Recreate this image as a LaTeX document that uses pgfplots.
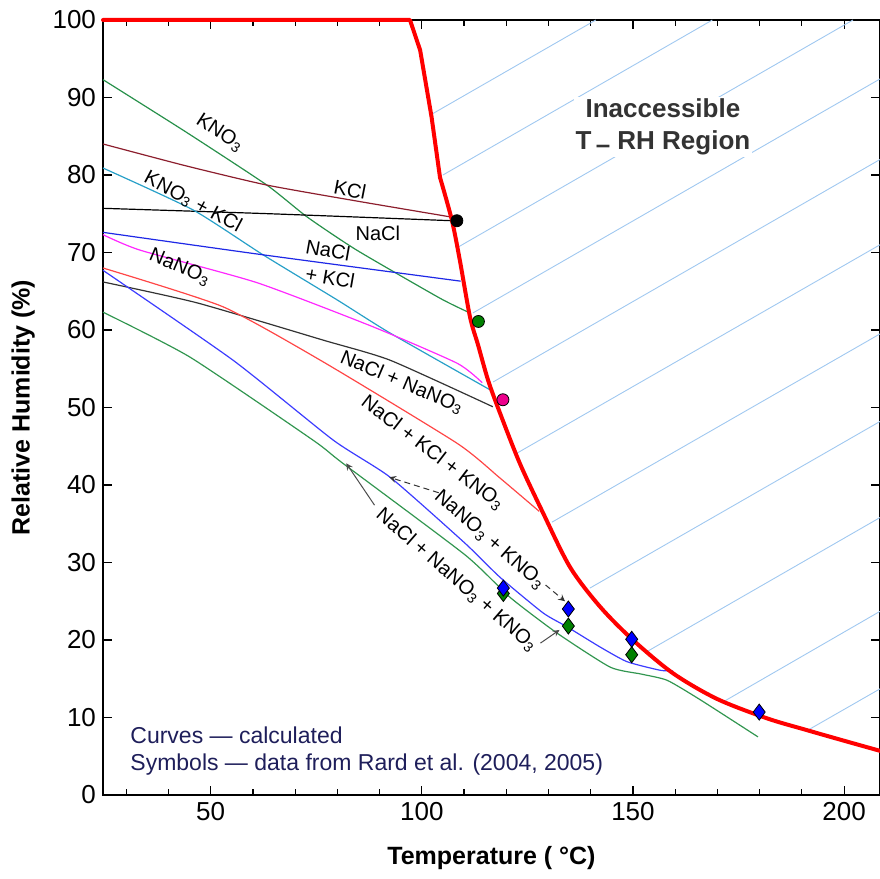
\documentclass[border=0pt]{standalone}
\usepackage{fontspec}
\setmainfont{Liberation Sans}
\usepackage{pgfplots}
\pgfplotsset{compat=1.18}
\definecolor{cKNO}{RGB}{40,145,75}
\definecolor{cLow}{RGB}{50,150,80}
\definecolor{cKCl}{RGB}{140,30,45}
\definecolor{cCyan}{RGB}{40,160,200}
\definecolor{cNK}{RGB}{30,40,230}
\definecolor{cMag}{RGB}{255,40,255}
\definecolor{cRedT}{RGB}{255,70,70}
\definecolor{cNN}{RGB}{60,60,255}
\definecolor{cHatch}{RGB}{160,200,240}
\definecolor{cNavy}{RGB}{30,30,90}
\definecolor{cDG}{RGB}{0,128,0}
\begin{document}
\begin{tikzpicture}
\begin{axis}[
  scale only axis, width=388.5pt, height=387.5pt,
  xmin=24.5, xmax=208.5, ymin=0, ymax=100,
  xtick={50,100,150,200},
  minor xtick={30,40,60,70,80,90,110,120,130,140,160,170,180,190},
  ytick={0,10,...,100},
  tick align=inside,
  major tick length=4.5pt, minor tick length=3pt,
  tick style={black, line width=0.6pt},
  axis line style={black, line width=0.8pt},
  every tick label/.append style={font=\fontsize{13}{15}\selectfont},
  /pgf/number format/assume math mode=true,
  xlabel={\textbf{Temperature ( °C)}},
  ylabel={\textbf{Relative Humidity (\%)}},
  label style={font=\fontsize{12.5}{15}\selectfont},
  xlabel style={at={(axis description cs:0.5,0)}, anchor=center, yshift=-31.5pt},
  ylabel style={yshift=2pt},
  clip=false,
  curve/.style={line width=0.6pt, smooth, tension=0.35},
]
% hatch lines of inaccessible region
\addplot[cHatch, line width=0.45pt] coordinates {(101.9,87.7) (141.2,100)};
\addplot[cHatch, line width=0.45pt] coordinates {(105.0,80.0) (168.8,100)};
\addplot[cHatch, line width=0.45pt] coordinates {(108.6,70.7) (202.1,100)};
\addplot[cHatch, line width=0.45pt] coordinates {(112.1,62.2) (208.5,92.4)};
\addplot[cHatch, line width=0.45pt] coordinates {(116.9,53.3) (208.5,82.0)};
\addplot[cHatch, line width=0.45pt] coordinates {(122.5,44.1) (208.5,71.0)};
\addplot[cHatch, line width=0.45pt] coordinates {(130.8,35.2) (208.5,59.5)};
\addplot[cHatch, line width=0.45pt] coordinates {(139.8,26.7) (208.5,48.2)};
\addplot[cHatch, line width=0.45pt] coordinates {(153.3,18.5) (208.5,35.8)};
\addplot[cHatch, line width=0.45pt] coordinates {(171.3,12.0) (208.5,23.7)};
\addplot[cHatch, line width=0.45pt] coordinates {(191.2,8.3) (208.5,13.7)};
% text of region (white background)
\node[fill=white, inner sep=1pt, align=center, font=\fontsize{13}{16}\selectfont\bfseries, text=black!80] at (axis cs:157.1,86.2) {Inaccessible\\T\,\raisebox{-0.15em}{–} RH Region};
% curves
\addplot[cKNO, curve] coordinates {(24.5,92.3) (44,85.6) (63.3,78.7) (72.8,74.6) (84.6,70.3) (104.3,64.1) (111.4,62.2)};
\addplot[cKCl, curve] coordinates {(24.5,84.0) (44,81.2) (63.3,78.7) (85,76.6) (106.7,74.6)};
\addplot[black, curve] coordinates {(24.5,75.7) (64.0,75.0) (107.1,74.1)};
\addplot[cCyan, curve] coordinates {(24.5,80.9) (45.8,75.5) (62.4,69.7) (79.9,63.9) (92.5,59.6) (116.1,52.3)};
\addplot[cNK, curve] coordinates {(24.5,72.6) (62.4,69.7) (109.2,66.3)};
\addplot[cMag, curve] coordinates {(24.5,72.3) (33.3,70.3) (61.0,66.1) (88.5,60.4) (108.4,55.7) (114.3,53.2)};
\addplot[black!80, curve] coordinates {(24.5,66.2) (46.8,63.5) (76.6,58.7) (92.5,56.1) (116.8,50.1)};
\addplot[cRedT, curve] coordinates {(24.5,68.0) (52.9,63.0) (76.6,55.9) (108.3,45.4) (118.5,40.9) (127.8,36.6)};
\addplot[cNN, curve] coordinates {(24.5,67.7) (55.3,56.1) (79.0,45.8) (92.5,41.0) (110.2,32.5) (118.5,28.1) (128.7,23.5) (134.4,21.7) (142.2,19.1) (148.6,17.2) (156.4,16.1) (159.5,16.0)};
\addplot[cLow, curve] coordinates {(24.5,62.3) (45.1,56.5) (74.2,45.8) (81.3,42.8) (110.2,31.0) (120.9,25.5) (132.0,20.9) (144.6,16.5) (152,15.6) (158.1,14.8) (165.9,12.3) (179.6,7.5)};
% deliquescence boundary
\addplot[red, line width=2pt, line join=round, line cap=round] coordinates {(24.5,100) (97.2,100) (99.6,96.1) (102.3,87.5) (104.3,79.7)};
\addplot[red, line width=2pt, line cap=round, smooth, tension=0.5] coordinates {(104.3,79.7) (107.1,74.2) (109.0,69.0) (111.4,61.7) (113.3,58.1) (115.7,53.5) (118.5,49.3) (123.2,42.8) (128.7,36.4) (135.1,29.4) (142.2,24.3) (150.0,20.0) (159.5,15.7) (169.9,12.4) (181.7,9.9) (191,8.4) (200,7.0) (208.5,5.7)};
% data symbols
\addplot[only marks, mark=*, mark size=3pt, mark options={draw=black, fill=black}] coordinates {(108.3,74.1)};
\addplot[only marks, mark=*, mark size=3pt, mark options={draw=black, fill=cDG}] coordinates {(113.4,61.1)};
\addplot[only marks, mark=*, mark size=3pt, mark options={draw=black, fill=magenta}] coordinates {(119.2,51.0)};
\addplot[only marks, mark=diamond*, mark size=4pt, mark options={draw=black, fill=cDG, line width=0.4pt}] coordinates {(119.3,26.0) (134.7,21.8) (149.7,18.1)};
\addplot[only marks, mark=diamond*, mark size=4pt, mark options={draw=black, fill=blue, line width=0.4pt}] coordinates {(119.3,26.7) (134.7,24.0) (149.7,20.1) (179.9,10.7)};
% labels
\begin{scope}[every node/.style={font=\fontsize{10}{12}\selectfont, inner sep=0pt}]
\node[rotate=-33] at (axis cs:52.2,85.4) {KNO\textsubscript{3}};
\node[rotate=-11] at (axis cs:83.0,78.1) {KCl};
\node[rotate=-28] at (axis cs:45.8,76.5) {KNO\textsubscript{3} + KCl};
\node at (axis cs:89.6,72.5) {NaCl};
\node[rotate=-10] at (axis cs:77.8,70.3) {NaCl};
\node[rotate=-10] at (axis cs:78.3,66.8) {+ KCl};
\node[rotate=-23] at (axis cs:42.7,68.1) {NaNO\textsubscript{3}};
\node[rotate=-23] at (axis cs:95.3,53.2) {NaCl + NaNO\textsubscript{3}};
\node[rotate=-37.5] at (axis cs:102.6,44.1) {NaCl + KCl + KNO\textsubscript{3}};
\node[rotate=-41] at (axis cs:116.1,32.9) {NaNO\textsubscript{3} + KNO\textsubscript{3}};
\node[rotate=-41] at (axis cs:108.3,27.7) {NaCl + NaNO\textsubscript{3} + KNO\textsubscript{3}};
\end{scope}
% arrows
\draw[-stealth, black!80, densely dashed, line width=0.5pt] (axis cs:104.0,39.0) -- (axis cs:92.3,41.0);
\draw[-stealth, black!80, densely dashed, line width=0.5pt] (axis cs:129.3,27.1) -- (axis cs:133.9,25.0);
\draw[-stealth, black!70, line width=0.5pt] (axis cs:88.8,37.4) -- (axis cs:82.1,42.8);
\draw[-stealth, black!70, line width=0.5pt] (axis cs:128.1,19.6) -- (axis cs:132.6,21.3);
% notes
\node[anchor=west, text=cNavy, font=\fontsize{11.5}{13}\selectfont, inner sep=0pt] at (axis cs:30.9,7.7) {Curves — calculated};
\node[anchor=west, text=cNavy, font=\fontsize{11.5}{13}\selectfont, inner sep=0pt] at (axis cs:30.9,3.9) {Symbols — data from Rard et al. (2004, 2005)};
\end{axis}
\pgfresetboundingbox
\path ([shift={(-51.5pt,-41.5pt)}]current axis.south west) rectangle ([shift={(0pt,10pt)}]current axis.north east);
\end{tikzpicture}
\end{document}
